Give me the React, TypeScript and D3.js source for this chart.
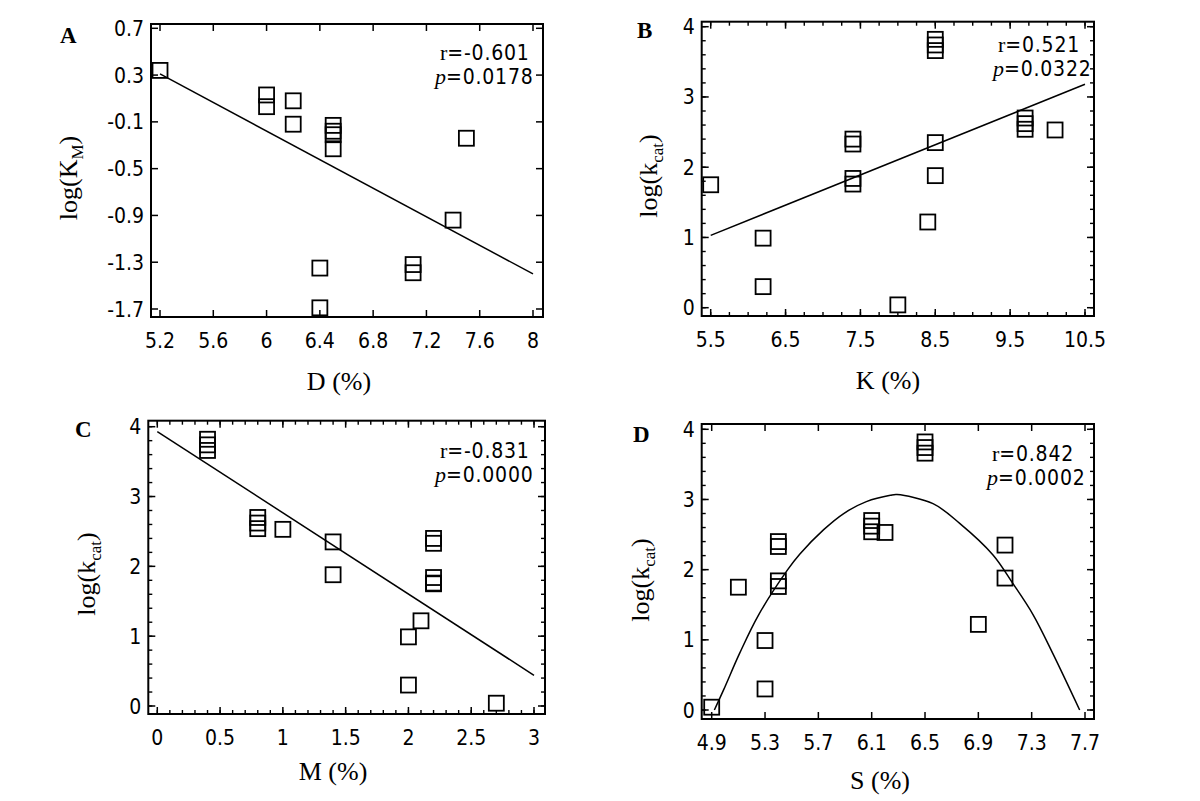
import React from 'react';
import * as d3 from 'd3';

// log(kcat) for the 18 variants, shared by panels B, C and D
const logKcat = [3.82, 3.74, 3.66, 2.70, 2.62, 2.54, 2.53, 2.40, 2.33, 1.84, 1.76, 2.35, 1.88, 1.75, 0.99, 0.30, 1.22, 0.04];
const kPct = [8.5, 8.5, 8.5, 9.7, 9.7, 9.7, 10.1, 7.4, 7.4, 7.4, 7.4, 8.5, 8.5, 5.5, 6.2, 6.2, 8.4, 8.0];
const mPct = [0.4, 0.4, 0.4, 0.8, 0.8, 0.8, 1.0, 2.2, 2.2, 2.2, 2.2, 1.4, 1.4, 2.2, 2.0, 2.0, 2.1, 2.7];
const sPct = [6.5, 6.5, 6.5, 6.1, 6.1, 6.1, 6.2, 5.4, 5.4, 5.4, 5.4, 7.1, 7.1, 5.1, 5.3, 5.3, 6.9, 4.9];

// panel A
const dPct = [5.2, 6.0, 6.0, 6.2, 6.2, 6.4, 6.4, 6.5, 6.5, 6.5, 6.5, 7.1, 7.1, 7.4, 7.5];
const logKm = [0.34, 0.13, 0.03, 0.08, -0.12, -1.35, -1.69, -0.13, -0.18, -0.21, -0.33, -1.32, -1.39, -0.94, -0.24];

// fitted lines / curve
const fitA: [number, number][] = [[5.2, 0.31], [8.0, -1.40]];
const fitB: [number, number][] = [[5.5, 1.03], [10.5, 3.18]];
const fitC: [number, number][] = [[0, 3.93], [3, 0.44]];
const fitD: [number, number][] = [
  [4.92, 0.0], [4.99, 0.29], [5.11, 0.81], [5.25, 1.35], [5.47, 2.0], [5.56, 2.22], [5.74, 2.57],
  [5.89, 2.80], [6.06, 2.97], [6.24, 3.06], [6.29, 3.07], [6.56, 2.94], [6.76, 2.66], [7.01, 2.21],
  [7.16, 1.80], [7.31, 1.36], [7.46, 0.80], [7.66, 0.0],
];

// tick labels
const xTicksA = ['5.2', '5.6', '6', '6.4', '6.8', '7.2', '7.6', '8'];
const yTicksA = ['0.7', '0.3', '-0.1', '-0.5', '-0.9', '-1.3', '-1.7'];
const xTicksB = ['5.5', '6.5', '7.5', '8.5', '9.5', '10.5'];
const xTicksC = ['0', '0.5', '1', '1.5', '2', '2.5', '3'];
const xTicksD = ['4.9', '5.3', '5.7', '6.1', '6.5', '6.9', '7.3', '7.7'];
const yTicksKcat = ['0', '1', '2', '3', '4'];

const NUM_FONT = "'Liberation Sans Narrow', 'DejaVu Sans Condensed', 'Arial Narrow', sans-serif";
const SERIF = "'Liberation Serif', 'DejaVu Serif', serif";

interface PanelSpec {
  letter: string;
  xs: number[];
  ys: number[];
  fit: [number, number][];
  curved?: boolean;
  xTicks: string[];
  yTicks: string[];
  xMinor?: number;
  yMinor?: number;
  frame: [number, number, number, number]; // x0, x1, y0, y1
  xRange: [number, number];
  yRange: [number, number];
  xTitle: string;
  xTitlePos: [number, number];
  yMain: string;
  ySub: string;
  yTitlePos: [number, number];
  letterPos: [number, number];
  r: string;
  p: string;
  statPos: [number, number, number];
}

const panels: PanelSpec[] = [
  {
    letter: 'A', xs: dPct, ys: logKm, fit: fitA, xTicks: xTicksA, yTicks: yTicksA,
    frame: [151, 543, 24, 317], xRange: [160, 533], yRange: [309, 28.3],
    xTitle: 'D (%)', xTitlePos: [339, 390], yMain: 'log(K', ySub: 'M', yTitlePos: [77, 178],
    letterPos: [60, 43], r: '=-0.601', p: '=0.0178', statPos: [440, 60, 84],
  },
  {
    letter: 'B', xs: kPct, ys: logKcat, fit: fitB, xTicks: xTicksB, yTicks: yTicksKcat,
    xMinor: 0.25, yMinor: 0.2,
    frame: [701.7, 1094, 21.7, 316], xRange: [710.7, 1085], yRange: [307.7, 26.7],
    xTitle: 'K (%)', xTitlePos: [888, 389], yMain: 'log(k', ySub: 'cat', yTitlePos: [657, 176],
    letterPos: [637, 38], r: '=0.521', p: '=0.0322', statPos: [998, 52, 76],
  },
  {
    letter: 'C', xs: mPct, ys: logKcat, fit: fitC, xTicks: xTicksC, yTicks: yTicksKcat,
    xMinor: 0.1, yMinor: 0.2,
    frame: [148.3, 545, 420.7, 714], xRange: [157.3, 534], yRange: [706, 426.7],
    xTitle: 'M (%)', xTitlePos: [333, 780], yMain: 'log(k', ySub: 'cat', yTitlePos: [95, 574],
    letterPos: [75, 437], r: '=-0.831', p: '=0.0000', statPos: [440, 458, 482],
  },
  {
    letter: 'D', xs: sPct, ys: logKcat, fit: fitD, curved: true, xTicks: xTicksD, yTicks: yTicksKcat,
    yMinor: 0.2,
    frame: [701.7, 1094, 424, 719], xRange: [711.7, 1085], yRange: [710, 429.3],
    xTitle: 'S (%)', xTitlePos: [880, 789], yMain: 'log(k', ySub: 'cat', yTitlePos: [649, 580],
    letterPos: [633, 442], r: '=0.842', p: '=0.0002', statPos: [992, 461, 485],
  },
];

const MAJOR = 7;
const MINOR = 4;
const BOX = 15;

// tick values at a fixed step, covering the frame
function minorTicks(lo: number, step: number, f0: number, f1: number, scale: d3.ScaleLinear<number, number>) {
  const d0 = scale.invert(f0);
  const d1 = scale.invert(f1);
  const a = Math.min(d0, d1);
  const b = Math.max(d0, d1);
  const out: number[] = [];
  for (let i = Math.ceil((a - lo) / step - 1e-6); lo + i * step <= b + 1e-9; i++) {
    out.push(+(lo + i * step).toFixed(6));
  }
  return out;
}

const Panel: React.FC<{ spec: PanelSpec }> = ({ spec }) => {
  const xt = spec.xTicks.map(Number);
  const yt = spec.yTicks.map(Number);
  const x = d3.scaleLinear().domain([xt[0], xt[xt.length - 1]]).range(spec.xRange);
  const yDom = [d3.min(yt)!, d3.max(yt)!];
  const y = d3.scaleLinear().domain(yDom).range(spec.yRange);
  const [fx0, fx1, fy0, fy1] = spec.frame;

  const line = d3.line<[number, number]>()
    .x((d) => x(d[0]))
    .y((d) => y(d[1]))
    .curve(spec.curved ? d3.curveCatmullRom.alpha(0.5) : d3.curveLinear);

  const xMinors = spec.xMinor ? minorTicks(xt[0], spec.xMinor, fx0, fx1, x) : [];
  const yMinors = spec.yMinor ? minorTicks(yDom[0], spec.yMinor, fy1, fy0, y) : [];

  return (
    <g>
      {xMinors.map((v, i) => (
        <g key={'xm' + i}>
          <line x1={x(v)} x2={x(v)} y1={fy1} y2={fy1 - MINOR} stroke="#000" strokeWidth={1.4} />
          <line x1={x(v)} x2={x(v)} y1={fy0} y2={fy0 + MINOR} stroke="#000" strokeWidth={1.4} />
        </g>
      ))}
      {yMinors.map((v, i) => (
        <g key={'ym' + i}>
          <line x1={fx0} x2={fx0 + MINOR} y1={y(v)} y2={y(v)} stroke="#000" strokeWidth={1.4} />
          <line x1={fx1} x2={fx1 - MINOR} y1={y(v)} y2={y(v)} stroke="#000" strokeWidth={1.4} />
        </g>
      ))}
      {xt.map((v, i) => (
        <g key={'x' + i}>
          <line x1={x(v)} x2={x(v)} y1={fy1} y2={fy1 - MAJOR} stroke="#000" strokeWidth={1.5} />
          <line x1={x(v)} x2={x(v)} y1={fy0} y2={fy0 + MAJOR} stroke="#000" strokeWidth={1.5} />
          <text x={x(v)} y={fy1 + 31} textAnchor="middle" fontFamily={NUM_FONT} fontSize={21}>
            {spec.xTicks[i]}
          </text>
        </g>
      ))}
      {yt.map((v, i) => (
        <g key={'y' + i}>
          <line x1={fx0} x2={fx0 + MAJOR} y1={y(v)} y2={y(v)} stroke="#000" strokeWidth={1.5} />
          <line x1={fx1} x2={fx1 - MAJOR} y1={y(v)} y2={y(v)} stroke="#000" strokeWidth={1.5} />
          <text x={fx0 - 7} y={y(v) + 7.5} textAnchor="end" fontFamily={NUM_FONT} fontSize={21}>
            {spec.yTicks[i]}
          </text>
        </g>
      ))}
      <rect x={fx0} y={fy0} width={fx1 - fx0} height={fy1 - fy0} fill="none" stroke="#000" strokeWidth={2} />

      <path d={line(spec.fit) || ''} fill="none" stroke="#000" strokeWidth={1.5} />

      {spec.xs.map((xv, i) => (
        <rect key={'p' + i} x={x(xv) - BOX / 2} y={y(spec.ys[i]) - BOX / 2} width={BOX} height={BOX}
          fill="none" stroke="#000" strokeWidth={1.8} />
      ))}

      <text x={spec.xTitlePos[0]} y={spec.xTitlePos[1]} textAnchor="middle" fontFamily={SERIF} fontSize={26}>
        {spec.xTitle}
      </text>
      <text transform={`translate(${spec.yTitlePos[0]},${spec.yTitlePos[1]}) rotate(-90)`} textAnchor="middle"
        fontFamily={SERIF} fontSize={26}>
        {spec.yMain}
        <tspan dy={6} fontSize={17}>{spec.ySub}</tspan>
        <tspan dy={-6}>)</tspan>
      </text>
      <text x={spec.letterPos[0]} y={spec.letterPos[1]} fontFamily={SERIF} fontWeight="bold" fontSize={23}>
        {spec.letter}
      </text>

      <text x={spec.statPos[0]} y={spec.statPos[1]} fontSize={21}>
        <tspan fontFamily={SERIF} fontSize={22}>r</tspan>
        <tspan fontFamily={NUM_FONT} letterSpacing={0.8}>{spec.r}</tspan>
      </text>
      <text x={spec.statPos[0] - 5} y={spec.statPos[2]} fontSize={21}>
        <tspan fontFamily={SERIF} fontStyle="italic" fontSize={22}>p</tspan>
        <tspan fontFamily={NUM_FONT} letterSpacing={0.8}>{spec.p}</tspan>
      </text>
    </g>
  );
};

export default function App() {
  return (
    <svg width={1200} height={801} style={{ position: 'absolute', left: 0, top: 0, background: '#fff' }}>
      <rect width={1200} height={801} fill="#fff" />
      {panels.map((p) => (
        <Panel key={p.letter} spec={p} />
      ))}
    </svg>
  );
}
